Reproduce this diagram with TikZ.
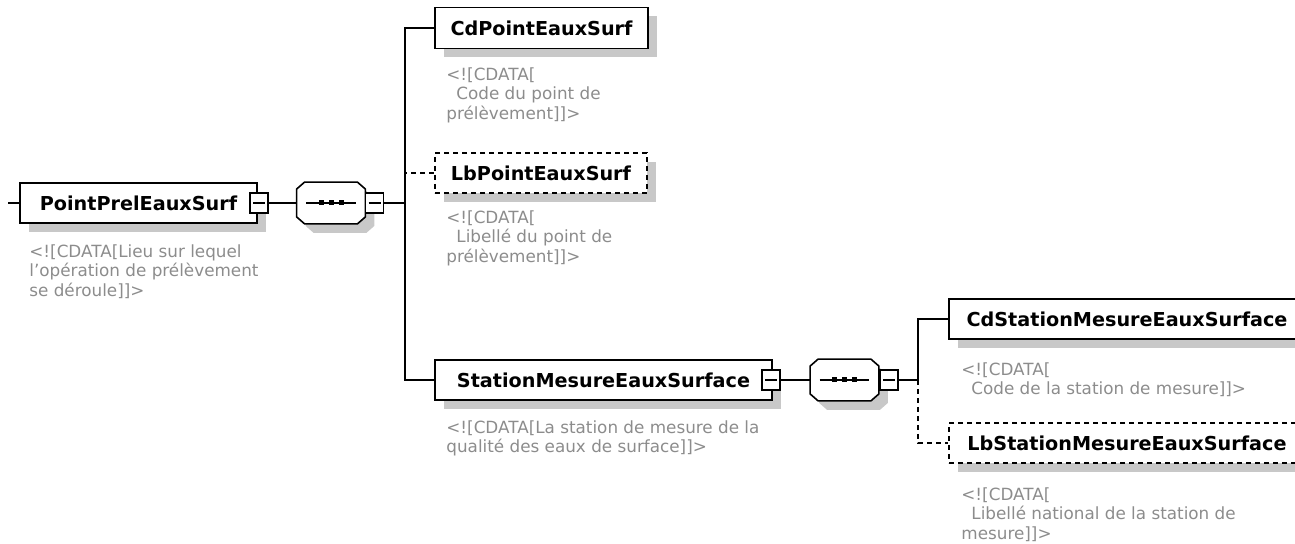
\documentclass[tikz,border=0pt]{standalone}
\usepackage{fontspec}
\setmainfont{DejaVu Sans}
\usepackage{tikz}
\usetikzlibrary{shadows}
\definecolor{notegray}{RGB}{140,140,140}
\definecolor{shadegray}{RGB}{200,200,200}
\newcommand{\labfont}{\bfseries\fontsize{9.6}{11}\selectfont}
\newcommand{\notefont}{\fontsize{8.4}{9.9}\selectfont}

\tikzset{
  boxshadow/.style={drop shadow={shadow xshift=4.5pt, shadow yshift=-4.5pt, fill=shadegray, opacity=1}},
  elem/.style={draw, line width=0.8pt, fill=white, minimum height=20pt, inner sep=0pt, font=\labfont, boxshadow},
  optelem/.style={elem, dash pattern=on 2.5pt off 2pt},
  seqbox/.style={minimum width=34pt, minimum height=20.5pt, inner sep=0pt},
  minus/.style={draw, line width=0.8pt, fill=white, minimum width=9pt, minimum height=10pt, inner sep=0pt,
    path picture={\draw[line width=0.6pt] ([xshift=1.5pt]path picture bounding box.west) -- ([xshift=-1.5pt]path picture bounding box.east);}},
  note/.style={anchor=north west, inner sep=0pt, align=left, text=notegray, font=\notefont},
  link/.style={line width=0.8pt},
  optlink/.style={link, dash pattern=on 2.5pt off 2pt}
}

\begin{document}
\begin{tikzpicture}[x=0.5pt,y=-0.5pt]
\useasboundingbox (0,0) rectangle (1295,544);
\clip (0,0) rectangle (1295,544);

\coordinate (in) at (8,203);
\coordinate (bus1) at (405,203);
\coordinate (bus2) at (918,380);

\node[elem, minimum width=118.5pt] (pp) at (138.5,203) {PointPrelEauxSurf};
\node[seqbox] (seq1) at (331,203) {};
\node[elem, minimum width=106.5pt, minimum height=20.5pt] (cd1) at (541.5,28) {CdPointEauxSurf};
\node[optelem, minimum width=106pt] (lb1) at (541,173) {LbPointEauxSurf};
\node[elem, minimum width=168.5pt] (sm) at (603.5,380) {StationMesureEauxSurface};
\node[seqbox] (seq2) at (844.5,380) {};
\node[elem, minimum width=178pt] (cd2) at (1127,319) {CdStationMesureEauxSurface};
\node[optelem, minimum width=178pt] (lb2) at (1127,443) {LbStationMesureEauxSurface};

\foreach \s in {seq1,seq2}{
  \draw[link, fill=white, boxshadow] ([xshift=4pt]\s.north west) -- ([xshift=-4pt]\s.north east)
    -- ([yshift=-3.5pt]\s.north east) -- ([yshift=3.5pt]\s.south east) -- ([xshift=-4pt]\s.south east)
    -- ([xshift=4pt]\s.south west) -- ([yshift=3.5pt]\s.south west) -- ([yshift=-3.5pt]\s.north west) -- cycle;
  \draw[link] ([xshift=4.75pt]\s.west) -- ([xshift=-4.75pt]\s.east);
  \foreach \dx in {-5pt,0pt,5pt}
    \fill ([xshift=\dx]\s.center) +(-1.25pt,-1.25pt) rectangle +(1.25pt,1.25pt);
}

\node[minus] (ppm) at (259,203) {};
\node[minus] (seq1m) at (374.5,203) {};
\node[minus] (smm) at (771,380) {};
\node[minus] (seq2m) at (889,380) {};

\node[note] (ppnote) at (29,244) {<![CDATA[Lieu sur lequel\\l'opération de prélèvement\\se déroule]]>};
\node[note] (cd1note) at (446,67) {<![CDATA[\\\hspace*{5pt}Code du point de\\prélèvement]]>};
\node[note] (lb1note) at (446,210) {<![CDATA[\\\hspace*{5pt}Libellé du point de\\prélèvement]]>};
\node[note] (smnote) at (446,420) {<![CDATA[La station de mesure de la\\qualité des eaux de surface]]>};
\node[note] (cd2note) at (961,362) {<![CDATA[\\\hspace*{5pt}Code de la station de mesure]]>};
\node[note] (lb2note) at (961,487) {<![CDATA[\\\hspace*{5pt}Libellé national de la station de\\mesure]]>};

\draw[link] (in) -- (pp.west);
\draw[link] (ppm.east) -- (seq1.west);
\draw[link] (seq1m.east) -- (bus1) |- (cd1.west);
\draw[link] (bus1) |- (sm.west);
\draw[optlink] (bus1) |- (lb1.west);
\draw[link] (smm.east) -- (seq2.west);
\draw[link] (seq2m.east) -- (bus2) |- (cd2.west);
\draw[optlink] (bus2) |- (lb2.west);
\end{tikzpicture}
\end{document}
